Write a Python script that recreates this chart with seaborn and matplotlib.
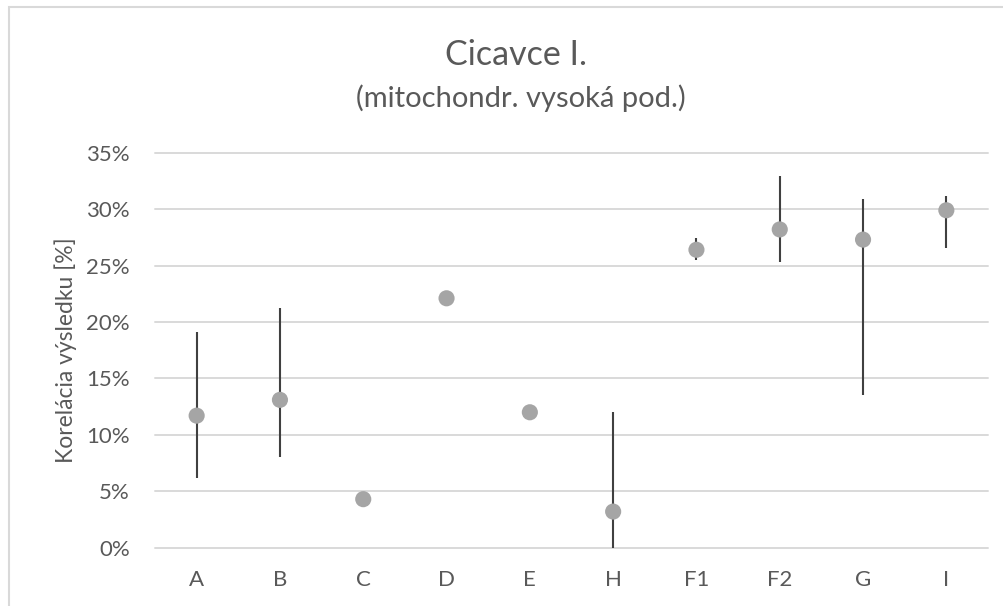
import numpy as np
import pandas as pd
import matplotlib
matplotlib.use("Agg")
import matplotlib.pyplot as plt
from matplotlib.patches import Rectangle
from matplotlib.ticker import PercentFormatter, MultipleLocator
import seaborn as sns

# Samples and their correlation (%) with lower / upper error bar ends
categories = ["A", "B", "C", "D", "E", "H", "F1", "F2", "G", "I"]
mean_pct = [11.7, 13.1, 4.3, 22.1, 12.0, 3.2, 26.4, 28.2, 27.3, 29.9]
low_pct = [6.2, 8.0, np.nan, np.nan, np.nan, 0.0, 25.5, 25.3, 13.5, 26.6]
high_pct = [19.1, 21.2, np.nan, np.nan, np.nan, 12.0, 27.4, 32.9, 30.9, 31.2]

title = "Cicavce I."
subtitle = "(mitochondr. vysoká pod.)"
ylabel = "Korelácia výsledku [%]"

df = pd.DataFrame({"vzorka": categories, "kor": mean_pct,
                   "lo": low_pct, "hi": high_pct})

sns.set_theme(style="white")
plt.rcParams["font.family"] = ["Lato", "DejaVu Sans"]

TEXT = "#595959"
GRID = "#D9D9D9"
DOT = "#A5A5A5"
BAR = "#404040"

W, H = 1004, 606
fig = plt.figure(figsize=(W / 100, H / 100), dpi=100)
fig.patch.set_facecolor("white")

# chart frame
fig.patches.append(Rectangle((9 / W, -0.1), 1.2, 1.1 - 7 / H, transform=fig.transFigure,
                             fill=False, edgecolor=GRID, linewidth=1.5, zorder=0))

ax = fig.add_axes([155 / W, 1 - 547.7 / H, 833 / W, 395 / H])
ax.set_facecolor("none")

# error bars
pos = np.arange(len(df))
mask = df["lo"].notna().to_numpy()
ax.vlines(pos[mask], df["lo"][mask], df["hi"][mask], color=BAR, linewidth=1.5, zorder=2)

sns.scatterplot(data=df, x="vzorka", y="kor", ax=ax, color=DOT, s=135,
                edgecolor="none", linewidth=0, zorder=3, clip_on=False)

ax.set_xlim(-0.5, len(categories) - 0.5)
ax.set_ylim(0, 35)
ax.yaxis.set_major_locator(MultipleLocator(5))
ax.yaxis.set_major_formatter(PercentFormatter(xmax=100, decimals=0))

for s in ax.spines.values():
    s.set_visible(False)
ax.yaxis.grid(True, color=GRID, linewidth=1.4)
ax.xaxis.grid(False)
for gl in ax.get_ygridlines():
    gl.set_clip_on(False)
ax.set_axisbelow(True)

ax.tick_params(axis="y", length=0, pad=18, labelsize=16, labelcolor=TEXT)
ax.tick_params(axis="x", length=0, pad=16, labelsize=16, labelcolor=TEXT)
ax.set_xlabel("")
ax.set_ylabel("")

fig.text(66 / W, 1 - 350 / H, ylabel, rotation=90, ha="center", va="center",
         fontsize=16.5, color=TEXT)
fig.text(516 / W, 1 - 65 / H, title, ha="center", va="baseline",
         fontsize=24.5, color=TEXT)
fig.text(521 / W, 1 - 107 / H, subtitle, ha="center", va="baseline",
         fontsize=21, color=TEXT)

fig.savefig("out.png", dpi=100)
